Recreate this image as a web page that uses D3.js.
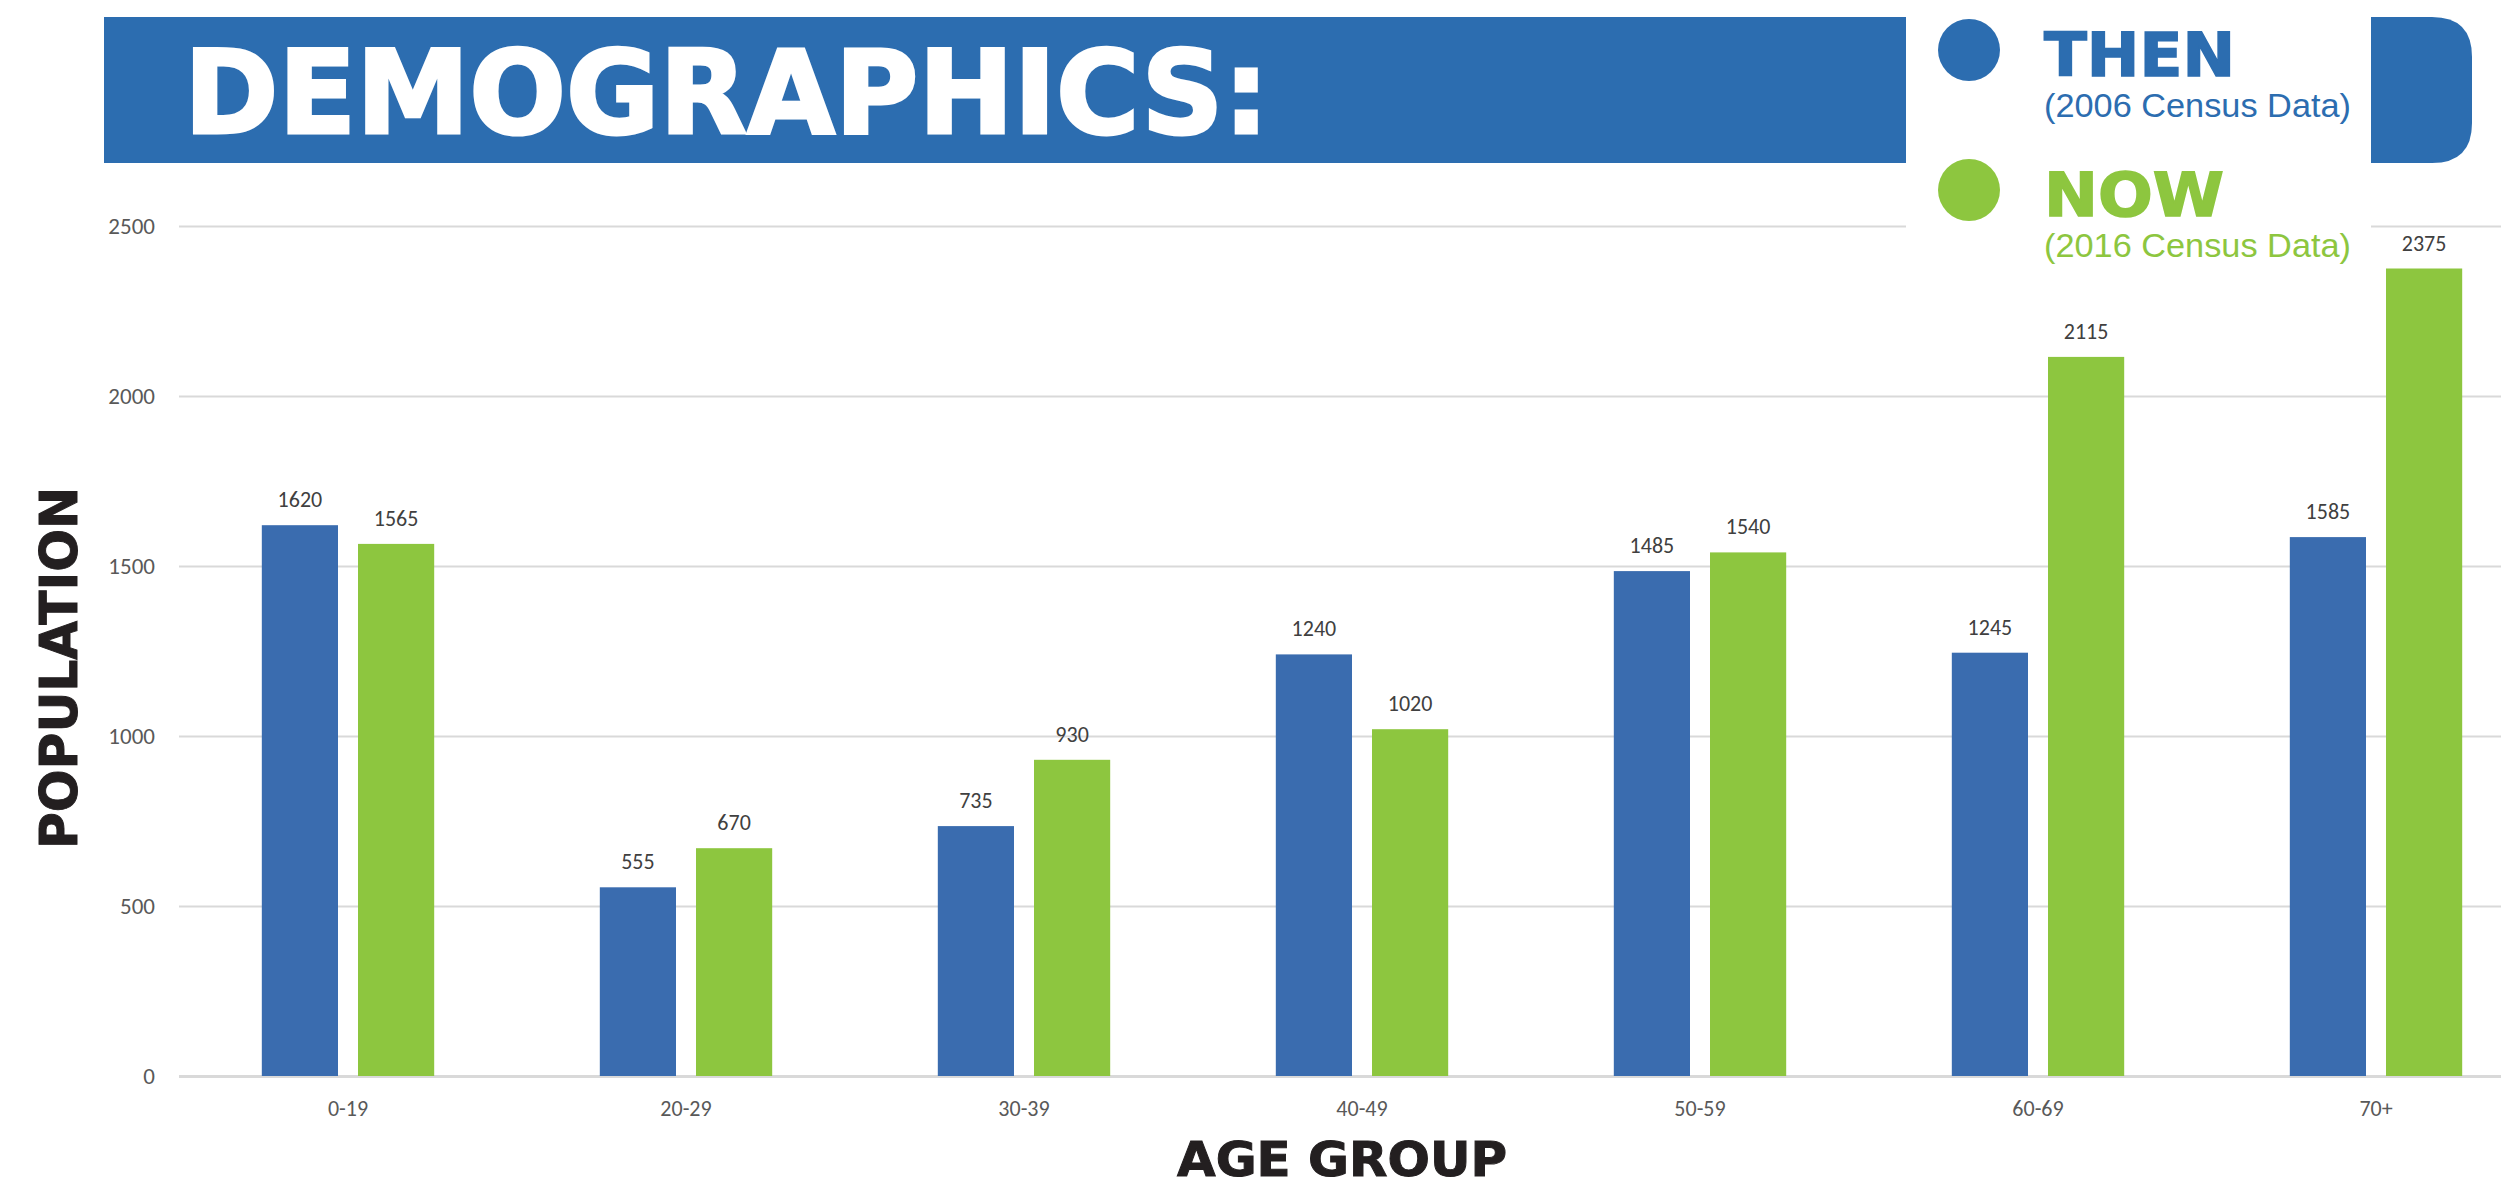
<!DOCTYPE html>
<html>
<head>
<meta charset="utf-8">
<script src="https://cdn.jsdelivr.net/npm/d3@7"></script>
<style>
  html, body { margin: 0; padding: 0; background: #ffffff; }
  svg { display: block; }
</style>
</head>
<body>
<svg id="chart" width="2501" height="1189"></svg>
<script>
const categories = ['0-19', '20-29', '30-39', '40-49', '50-59', '60-69', '70+'];
const seriesNames = ['THEN', 'NOW'];
const thenValues = [1620, 555, 735, 1240, 1485, 1245, 1585];
const nowValues = [1565, 670, 930, 1020, 1540, 2115, 2375];
const yTickValues = [0, 500, 1000, 1500, 2000, 2500];
const legendSubtitles = ['(2006 Census Data)', '(2016 Census Data)'];
const titleText = 'DEMOGRAPHICS:';
const xAxisTitle = 'AGE GROUP';
const yAxisTitle = 'POPULATION';

const colors = { THEN: '#3A6CAF', NOW: '#8DC63F' };
const headerBlue = '#2C6DB0';
const labelFont = 'Carlito, Lato, "Open Sans", sans-serif';
const heavyFont = '"DejaVu Sans", Verdana, sans-serif';

const svg = d3.select('#chart');
const plotLeft = 179, plotRight = 2545, plotTop = 226, plotBottom = 1076;

const y = d3.scaleLinear().domain([0, 2500]).range([plotBottom, plotTop]);
const x0 = d3.scaleBand().domain(categories).range([plotLeft, plotRight])
  .paddingInner(0.49).paddingOuter(0.245);
const x1 = d3.scaleBand().domain(seriesNames).range([0, x0.bandwidth()])
  .paddingInner(0.208).paddingOuter(0);

// Y axis with gridlines
const yAxisG = svg.append('g')
  .attr('transform', `translate(${plotLeft},0)`)
  .call(d3.axisLeft(y).tickValues(yTickValues).tickFormat(d3.format('d'))
    .tickSize(-(plotRight - plotLeft)).tickPadding(24));
yAxisG.select('.domain').remove();
yAxisG.selectAll('.tick line')
  .attr('stroke', '#D9D9D9')
  .attr('stroke-width', d => d === 0 ? 3 : 2);
yAxisG.selectAll('.tick text')
  .attr('fill', '#595959')
  .style('font-family', labelFont)
  .style('font-size', '23px');

// X axis
const xAxisG = svg.append('g')
  .attr('transform', `translate(0,${plotBottom})`)
  .call(d3.axisBottom(x0).tickSize(0));
xAxisG.select('.domain').remove();
xAxisG.selectAll('.tick text')
  .attr('y', 40).attr('dy', 0)
  .attr('fill', '#595959')
  .style('font-family', labelFont)
  .style('font-size', '22px');

// Bars
const rows = categories.map((c, i) => ({ cat: c, values: [
  { key: 'THEN', value: thenValues[i] },
  { key: 'NOW', value: nowValues[i] }
]}));

const groups = svg.append('g').selectAll('g').data(rows).join('g')
  .attr('transform', d => `translate(${x0(d.cat)},0)`);

groups.selectAll('rect').data(d => d.values).join('rect')
  .attr('x', d => x1(d.key))
  .attr('y', d => y(d.value))
  .attr('width', x1.bandwidth())
  .attr('height', d => y(0) - y(d.value))
  .attr('fill', d => colors[d.key]);

groups.selectAll('text.val').data(d => d.values).join('text')
  .attr('class', 'val')
  .attr('x', d => x1(d.key) + x1.bandwidth() / 2)
  .attr('y', d => y(d.value) - 18)
  .attr('text-anchor', 'middle')
  .attr('fill', '#404040')
  .style('font-family', labelFont)
  .style('font-size', '22px')
  .text(d => d.value);

// Header bar
svg.append('rect')
  .attr('x', 104).attr('y', 17).attr('width', 1906 - 104).attr('height', 146)
  .attr('fill', headerBlue);

// Legend white background (covers gridline)
svg.append('rect')
  .attr('x', 1906).attr('y', 0).attr('width', 2371 - 1906).attr('height', 240)
  .attr('fill', '#ffffff');

// Right rounded header cap
const capX0 = 2371, capX1 = 2472, capY0 = 17, capY1 = 163, r = 40;
svg.append('path')
  .attr('d', `M${capX0},${capY0} H${capX1 - r} Q${capX1},${capY0} ${capX1},${capY0 + r} V${capY1 - r} Q${capX1},${capY1} ${capX1 - r},${capY1} H${capX0} Z`)
  .attr('fill', headerBlue);

svg.append('text')
  .attr('x', 184).attr('y', 133)
  .attr('fill', '#ffffff')
  .attr('stroke', '#ffffff').attr('stroke-width', 3)
  .attr('textLength', 1085).attr('lengthAdjust', 'spacingAndGlyphs')
  .style('font-family', heavyFont)
  .style('font-weight', 'bold')
  .style('font-size', '115px')
  .text(titleText);

// Legend
const legendY = { THEN: 50, NOW: 190 };
seriesNames.forEach((s, i) => {
  const c = i === 0 ? headerBlue : colors[s];
  svg.append('circle')
    .attr('cx', 1969).attr('cy', legendY[s]).attr('r', 31)
    .attr('fill', c);
  svg.append('text')
    .attr('x', 2044).attr('y', legendY[s] + 26)
    .attr('fill', c)
    .attr('stroke', c).attr('stroke-width', 1.5)
    .attr('textLength', i === 0 ? 191 : 180).attr('lengthAdjust', 'spacingAndGlyphs')
    .style('font-family', heavyFont)
    .style('font-weight', 'bold')
    .style('font-size', '60px')
    .text(s);
  svg.append('text')
    .attr('x', 2044).attr('y', legendY[s] + 67)
    .attr('fill', c)
    .attr('textLength', 307).attr('lengthAdjust', 'spacingAndGlyphs')
    .style('font-family', '"Liberation Sans", Arial, sans-serif')
    .style('font-size', '33px')
    .text(legendSubtitles[i]);
});

// Axis titles
svg.append('text')
  .attr('x', 1342).attr('y', 1176)
  .attr('text-anchor', 'middle')
  .attr('fill', '#231F20')
  .attr('stroke', '#231F20').attr('stroke-width', 1)
  .attr('textLength', 330).attr('lengthAdjust', 'spacingAndGlyphs')
  .style('font-family', heavyFont)
  .style('font-weight', 'bold')
  .style('font-size', '48px')
  .text(xAxisTitle);

svg.append('text')
  .attr('transform', 'translate(77,668) rotate(-90)')
  .attr('text-anchor', 'middle')
  .attr('fill', '#231F20')
  .attr('stroke', '#231F20').attr('stroke-width', 1)
  .attr('textLength', 362).attr('lengthAdjust', 'spacingAndGlyphs')
  .style('font-family', heavyFont)
  .style('font-weight', 'bold')
  .style('font-size', '51px')
  .text(yAxisTitle);
</script>
</body>
</html>
